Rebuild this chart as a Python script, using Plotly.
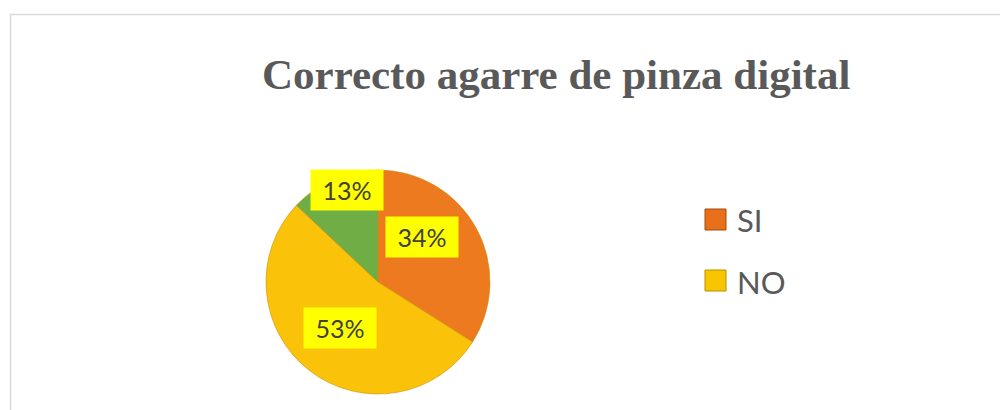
import math
import plotly.graph_objects as go

# ---- data ----
categories = ["SI", "NO", "Otro"]
values = [34, 53, 13]
slice_colors = ["#EE7A1F", "#FBC20A", "#6FAD45"]
legend_items = ["SI", "NO"]
legend_colors = ["#E8701A", "#F7C600"]
legend_edges = ["#A04A10", "#B88E00"]
title_text = "Correcto agarre de pinza digital"

# ---- layout constants (window pixels; page body has an 8px margin) ----
OFF = 8
W, H = 1000, 402
pie_cx, pie_cy, pie_r = 378, 282, 112
label_radius = [0.56, 0.53, 0.87]
label_angle_shift = [-17, 2, 5]


def px_x(x):
    return (x - OFF) / W


def px_y(y):
    return 1 - (y - OFF) / H


dom_x = [px_x(pie_cx - pie_r), px_x(pie_cx + pie_r)]
dom_y = [px_y(pie_cy + pie_r), px_y(pie_cy - pie_r)]

fig = go.Figure()
fig.add_trace(go.Pie(
    labels=categories, values=values, sort=False, direction="clockwise",
    rotation=0, marker=dict(colors=slice_colors, line=dict(color="#C8900A", width=0.6)),
    textinfo="none", hoverinfo="label+percent", showlegend=False,
    domain=dict(x=dom_x, y=dom_y),
))

# percentage labels with yellow boxes, positioned from the data
total = sum(values)
cum = 0
annotations = []
for i, v in enumerate(values):
    mid = (cum + v / 2) / total * 360 + label_angle_shift[i]
    cum += v
    a = math.radians(mid)
    lx = pie_cx + label_radius[i] * pie_r * math.sin(a)
    ly = pie_cy - label_radius[i] * pie_r * math.cos(a)
    annotations.append(dict(
        x=px_x(lx), y=px_y(ly), xref="paper", yref="paper",
        text=f"&nbsp;{round(v / total * 100)}%&nbsp;", showarrow=False,
        font=dict(family="Lato, Open Sans, sans-serif", size=25, color="#404040"),
        bgcolor="#FFFF00", borderpad=5, xanchor="center", yanchor="middle",
    ))

# title
annotations.append(dict(
    x=px_x(556), y=px_y(74), xref="paper", yref="paper", text=f"<b>{title_text}</b>",
    showarrow=False, xanchor="center", yanchor="middle",
    font=dict(family="Liberation Serif, Times New Roman, serif", size=43, color="#595959"),
))

# custom legend (only SI and NO are listed in the reference)
shapes = [dict(type="rect", xref="paper", yref="paper",
               x0=px_x(10.5), x1=1.05, y0=-0.1, y1=px_y(14.5),
               line=dict(color="#D9D9D9", width=1.5))]
leg_y = [219.5, 280.5]
for i, name in enumerate(legend_items):
    cy = leg_y[i]
    shapes.append(dict(type="rect", xref="paper", yref="paper",
                       x0=px_x(705), x1=px_x(726), y0=px_y(cy + 10.5), y1=px_y(cy - 10.5),
                       fillcolor=legend_colors[i], line=dict(color=legend_edges[i], width=1)))
    annotations.append(dict(
        x=px_x(735), y=px_y(cy + 1), xref="paper", yref="paper", text=name,
        showarrow=False, xanchor="left", yanchor="middle",
        font=dict(family="Lato, Open Sans, sans-serif", size=31, color="#595959"),
    ))

fig.update_layout(
    width=W, height=H, margin=dict(l=0, r=0, t=0, b=0),
    paper_bgcolor="white", plot_bgcolor="white",
    xaxis=dict(visible=False), yaxis=dict(visible=False),
    annotations=annotations, shapes=shapes, showlegend=False,
)

fig.write_html("out.html")
